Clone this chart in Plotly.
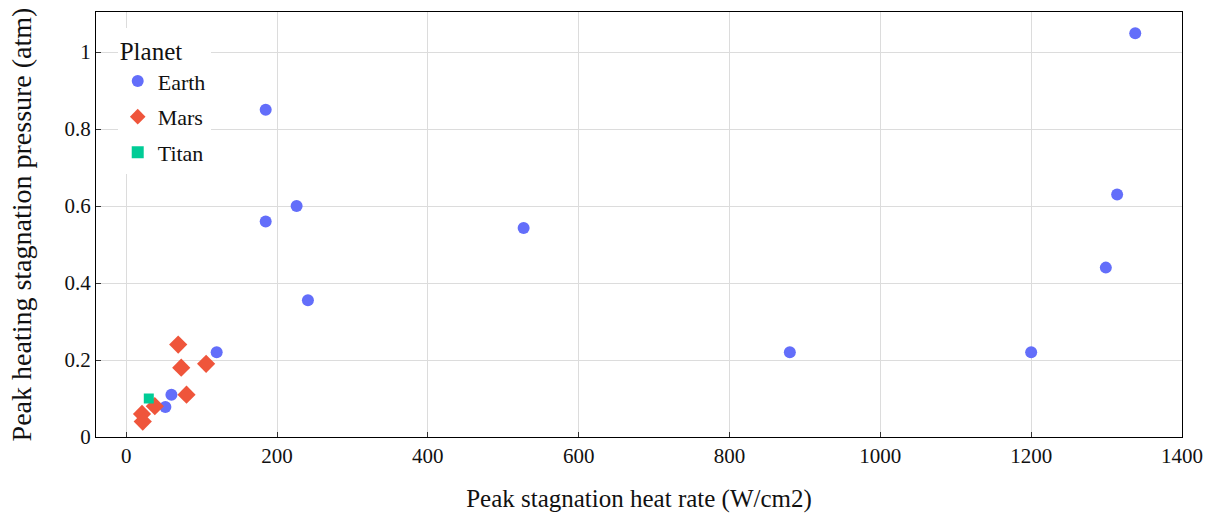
import plotly.graph_objects as go

earth_x = [1338, 185, 185, 226, 241, 527, 120, 880, 1200, 1299, 1314, 60, 52]
earth_y = [1.049, 0.85, 0.56, 0.60, 0.355, 0.543, 0.22, 0.22, 0.22, 0.44, 0.63, 0.11, 0.078]
mars_x = [69, 73, 106, 80, 38, 21, 22]
mars_y = [0.24, 0.18, 0.19, 0.11, 0.08, 0.06, 0.04]
titan_x = [30]
titan_y = [0.10]

FONT = "Liberation Serif, Times New Roman, serif"

fig = go.Figure()
fig.add_trace(go.Scatter(x=earth_x, y=earth_y, mode="markers", name="Earth", legendgroup="Earth",
                         marker=dict(symbol="circle", size=12, color="#636efa")))
fig.add_trace(go.Scatter(x=mars_x, y=mars_y, mode="markers", name="Mars", legendgroup="Mars",
                         marker=dict(symbol="diamond", size=14, color="#EF553B")))
fig.add_trace(go.Scatter(x=titan_x, y=titan_y, mode="markers", name="Titan", legendgroup="Titan",
                         marker=dict(symbol="square", size=10, color="#00cc96")))

axis_common = dict(showline=True, linecolor="black", linewidth=1, mirror=True,
                   ticks="inside", ticklen=5, tickcolor="#333", showgrid=True,
                   gridcolor="#dcdcdc", zeroline=False, automargin=False,
                   tickfont=dict(family=FONT, size=21, color="#111"))

fig.update_layout(
    width=1211, height=517,
    margin=dict(l=96, r=29, t=12, b=80),
    plot_bgcolor="white", paper_bgcolor="white",
    font=dict(family=FONT, color="#111"),
    xaxis=dict(range=[-40, 1400], dtick=200,
               title=dict(text="Peak stagnation heat rate (W/cm2)", font=dict(family=FONT, size=25),
                          standoff=22),
               **axis_common),
    yaxis=dict(range=[0, 1.104], dtick=0.2,
               title=dict(text="Peak heating stagnation pressure (atm)", font=dict(family=FONT, size=28),
                          standoff=24),
               **axis_common),
    legend=dict(title=dict(text="Planet", font=dict(family=FONT, size=25)),
                font=dict(family=FONT, size=22),
                x=0.02, y=0.963, xanchor="left", yanchor="top",
                traceorder="grouped", tracegroupgap=4,
                bgcolor="white", itemsizing="constant"),
)

fig.write_html("out.html")
